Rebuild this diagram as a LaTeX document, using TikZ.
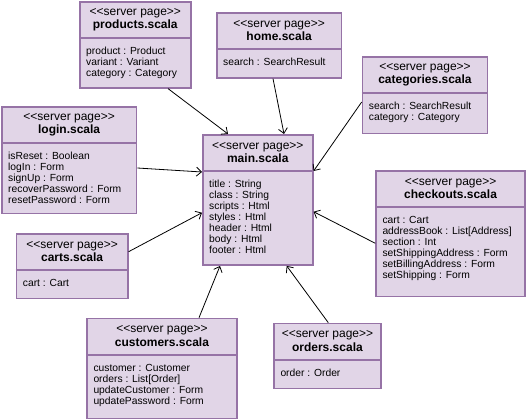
\documentclass[tikz,border=0pt]{standalone}
\usepackage{fontspec}
\setmainfont{Liberation Sans}
\usetikzlibrary{arrows.meta}
\definecolor{boxfill}{HTML}{E1D5E7}
\definecolor{boxline}{HTML}{9673A6}
\tikzset{
  pagebox/.style={draw=boxline, fill=boxfill, line width=1.6pt, inner sep=0pt, rectangle},
  pageline/.style={draw=boxline, line width=1.6pt},
  headtext/.style={inner sep=0pt, align=center, font=\fontsize{12}{13.3}\selectfont},
  attrtext/.style={inner sep=0pt, align=left, font=\fontsize{10.3}{11}\selectfont, anchor=north west},
  dep/.style={draw=black, line width=0.8pt, -{Straight Barb[length=5pt,width=9pt]}},
}
\newcommand\spage[7]{%
  \node[pagebox, minimum width={#4-#2}, minimum height={#5-#3}, anchor=north west] (#1) at (#2,#3) {};
  \draw[pageline] ([yshift=-37pt]#1.north west) -- ([yshift=-37pt]#1.north east);
  \node[headtext] (#1-head) at ([yshift=-18.5pt]#1.north) {{<}{<}server page{>}{>}\\\textbf{#6}};
  \node[attrtext] (#1-attrs) at ([xshift=7pt,yshift=-46pt]#1.north west) {#7};
}
\begin{document}
\begin{tikzpicture}[x=1pt,y=-1pt]
\useasboundingbox (0,0) rectangle (526,419);
\spage{products}{79}{1}{190}{87}{products.scala}{product : Product\\variant : Variant\\category : Category}
\spage{home}{216}{12}{340.7}{77}{home.scala}{search : SearchResult}
\spage{categories}{361.7}{56}{486.7}{132.7}{categories.scala}{search : SearchResult\\category : Category}
\spage{login}{1}{106}{135.7}{212.7}{login.scala}{isReset : Boolean\\logIn : Form\\signUp : Form\\recoverPassword : Form\\resetPassword : Form}
\spage{main}{202}{134}{312}{264.3}{main.scala}{title : String\\class : String\\scripts : Html\\styles : Html\\header : Html\\body : Html\\footer : Html}
\spage{checkouts}{375.3}{170.3}{524.3}{295.7}{checkouts.scala}{cart : Cart\\addressBook : List[Address]\\section : Int\\setShippingAddress : Form\\setBillingAddress : Form\\setShipping : Form}
\spage{carts}{15.7}{233}{127}{297.7}{carts.scala}{cart : Cart}
\spage{customers}{86.3}{317.7}{236}{418}{customers.scala}{customer : Customer\\orders : List[Order]\\updateCustomer : Form\\updatePassword : Form}
\spage{orders}{273.3}{322.7}{380}{387.7}{orders.scala}{order : Order}
% dependencies
\draw[dep] ([xshift=89pt]products.south west) -- ([xshift=26pt]main.north west);
\draw[dep] ([xshift=57pt]home.south west) -- ([xshift=82pt]main.north west);
\draw[dep] ([yshift=-46pt]categories.north west) -- ([yshift=-37pt]main.north east);
\draw[dep] ([yshift=-62pt]login.north east) -- ([yshift=-38pt]main.north west);
\draw[dep] ([yshift=-18.7pt]carts.north east) -- ([yshift=-78.7pt]main.north west);
\draw[dep] ([yshift=-73pt]checkouts.north west) -- ([yshift=-77.7pt]main.north east);
\draw[dep] ([xshift=112.7pt]customers.north west) -- ([xshift=18pt]main.south west);
\draw[dep] ([xshift=55pt]orders.north west) -- ([xshift=84.7pt]main.south west);
\end{tikzpicture}
\end{document}
